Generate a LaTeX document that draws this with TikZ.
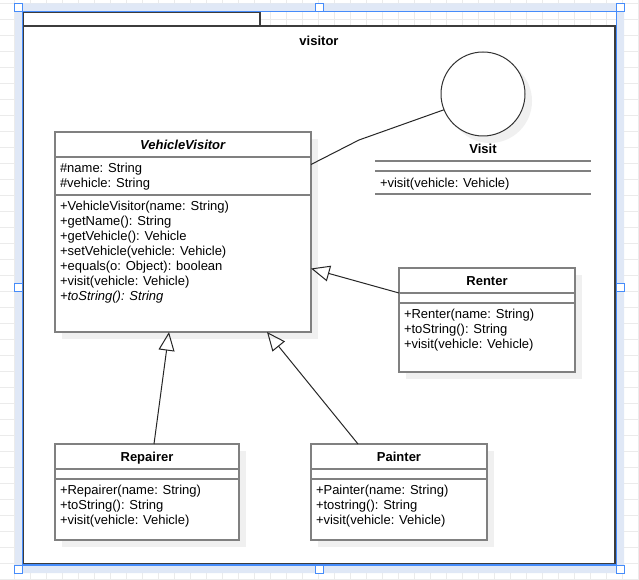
\documentclass[tikz,border=0pt]{standalone}
\usepackage{fontspec}
\setmainfont{Liberation Sans}
\usetikzlibrary{arrows.meta, positioning, shadows}

\newlength{\umlpx}
\setlength{\umlpx}{0.75pt}

\definecolor{umlline}{RGB}{128,128,128}
\definecolor{pkgline}{RGB}{60,60,60}
\definecolor{selblue}{RGB}{70,140,250}
\definecolor{selfill}{RGB}{224,232,246}
\definecolor{gridgray}{RGB}{235,235,235}
\definecolor{shadowgray}{RGB}{240,240,240}

\begin{document}
\begin{tikzpicture}[x=0.75pt, y=-0.75pt, every node/.style={font=\fontsize{9.75}{11.25}\selectfont, inner sep=0pt, outer sep=0pt}]

        % Stile
        \tikzstyle{umlshadow}=[drop shadow={shadow xshift=5.25pt, shadow yshift=-5.25pt, fill=shadowgray, opacity=1}]
        \tikzstyle{comp}=[draw=umlline, line width=1.1pt, fill=white, anchor=north west, umlshadow]
        \tikzstyle{head}=[comp, text height=7pt, text depth=0pt]
        \tikzstyle{txt}=[anchor=north west, align=left]
        \tikzstyle{umlrule}=[draw=umlline, line width=1.1pt]
        \tikzstyle{pkg}=[draw=pkgline, line width=1.1pt, fill=white, anchor=north west]
        \tikzstyle{inherit}=[-{Triangle[open, length=14pt, width=12pt]}, line width=0.75pt, draw=black!85]
        \tikzstyle{assoc}=[line width=0.75pt, draw=black!85]

        % Raster
        \useasboundingbox (0,0) rectangle (639,580);
        \fill[white] (0,0) rectangle (639,580);
        \foreach \gx in {0,...,39} \draw[gridgray, line width=1pt] (14.7+16*\gx,0) -- (14.7+16*\gx,580);
        \foreach \gy in {0,...,36} \draw[gridgray, line width=1pt] (0,3.7+16*\gy) -- (639,3.7+16*\gy);
        \fill[selfill, even odd rule] (15,3.5) rectangle (624,573) (22.5,11.5) rectangle (616.3,565);

        % Paket
        \node[pkg, minimum width=237\umlpx, minimum height=14\umlpx] (pkgtab) at (23,12) {};
        \node[pkg, minimum width=592\umlpx, minimum height=538\umlpx] (pkg) at (23,26) {};
        \node[below=10\umlpx of pkg.north] (pkglbl) {\textbf{visitor}};

        % Schnittstelle Visit
        \node[circle, draw=black!80, line width=0.75pt, fill=white, minimum size=84\umlpx, umlshadow] (visit) at (483,94) {};
        \node[below=8\umlpx of visit] (visitlbl) {\textbf{Visit}};
        \draw[umlrule] (375,161) -- (591,161) (375,171) -- (591,171) (375,194) -- (591,194);
        \node[txt] (visitops) at (380,178) {+visit(vehicle: Vehicle)};

        % VehicleVisitor
        \node[head, minimum width=256\umlpx, minimum height=25\umlpx] (vvhead) at (55,132) {\textbf{\textit{VehicleVisitor}}};
        \node[comp, minimum width=256\umlpx, minimum height=38\umlpx, below=0pt of vvhead] (vvattr) {};
        \node[comp, minimum width=256\umlpx, minimum height=137\umlpx, below=0pt of vvattr] (vvops) {};
        \node[txt, below right=6\umlpx and 5\umlpx of vvattr.north west] (vvattrtxt) {\#name: String\\\#vehicle: String};
        \node[txt, below right=6\umlpx and 5\umlpx of vvops.north west] (vvopstxt) {+VehicleVisitor(name: String)\\+getName(): String\\+getVehicle(): Vehicle\\+setVehicle(vehicle: Vehicle)\\+equals(o: Object): boolean\\+visit(vehicle: Vehicle)\\\textit{+toString(): String}};

        % Renter
        \node[head, minimum width=176\umlpx, minimum height=25\umlpx] (rnthead) at (399,268) {\textbf{Renter}};
        \node[comp, minimum width=176\umlpx, minimum height=10\umlpx, below=0pt of rnthead] (rntattr) {};
        \node[comp, minimum width=176\umlpx, minimum height=69\umlpx, below=0pt of rntattr] (rntops) {};
        \node[txt, below right=6\umlpx and 5\umlpx of rntops.north west] (rntopstxt) {+Renter(name: String)\\+toString(): String\\+visit(vehicle: Vehicle)};

        % Repairer
        \node[head, minimum width=184\umlpx, minimum height=25\umlpx] (rprhead) at (55,444) {\textbf{Repairer}};
        \node[comp, minimum width=184\umlpx, minimum height=10\umlpx, below=0pt of rprhead] (rprattr) {};
        \node[comp, minimum width=184\umlpx, minimum height=61\umlpx, below=0pt of rprattr] (rprops) {};
        \node[txt, below right=6\umlpx and 5\umlpx of rprops.north west] (rpropstxt) {+Repairer(name: String)\\+toString(): String\\+visit(vehicle: Vehicle)};

        % Painter
        \node[head, minimum width=176\umlpx, minimum height=25\umlpx] (pnthead) at (311,444) {\textbf{Painter}};
        \node[comp, minimum width=176\umlpx, minimum height=10\umlpx, below=0pt of pnthead] (pntattr) {};
        \node[comp, minimum width=176\umlpx, minimum height=61\umlpx, below=0pt of pntattr] (pntops) {};
        \node[txt, below right=6\umlpx and 5\umlpx of pntops.north west] (pntopstxt) {+Painter(name: String)\\+tostring(): String\\+visit(vehicle: Vehicle)};

        % Vererbung
        \draw[inherit] (rnthead.south west) -- ([yshift=-5\umlpx]vvops.east);
        \draw[inherit] ([xshift=7\umlpx]rprhead.north) -- ([xshift=-14\umlpx]vvops.south);
        \draw[inherit] ([xshift=-41\umlpx]pnthead.north) -- ([xshift=84\umlpx]vvops.south);

        % Realisierung Visit (Lollipop)
        \coordinate (knick) at (359,140);
        \draw[assoc] ([yshift=11.5\umlpx]vvattr.east) -- (knick) -- (visit.202);

        % Auswahl
        \draw[selblue, line width=0.9pt] (22.5,11.5) rectangle (616.3,565);
        \foreach \hx/\hy [count=\hi] in {18.5/7.5, 319.5/7.5, 620.5/7.5, 18.5/288, 620.5/288, 18.5/569, 319.5/569, 620.5/569}
          \node[draw=selblue, fill=white, line width=0.75pt, minimum size=8\umlpx] (hdl\hi) at (\hx,\hy) {};
\end{tikzpicture}
\end{document}
